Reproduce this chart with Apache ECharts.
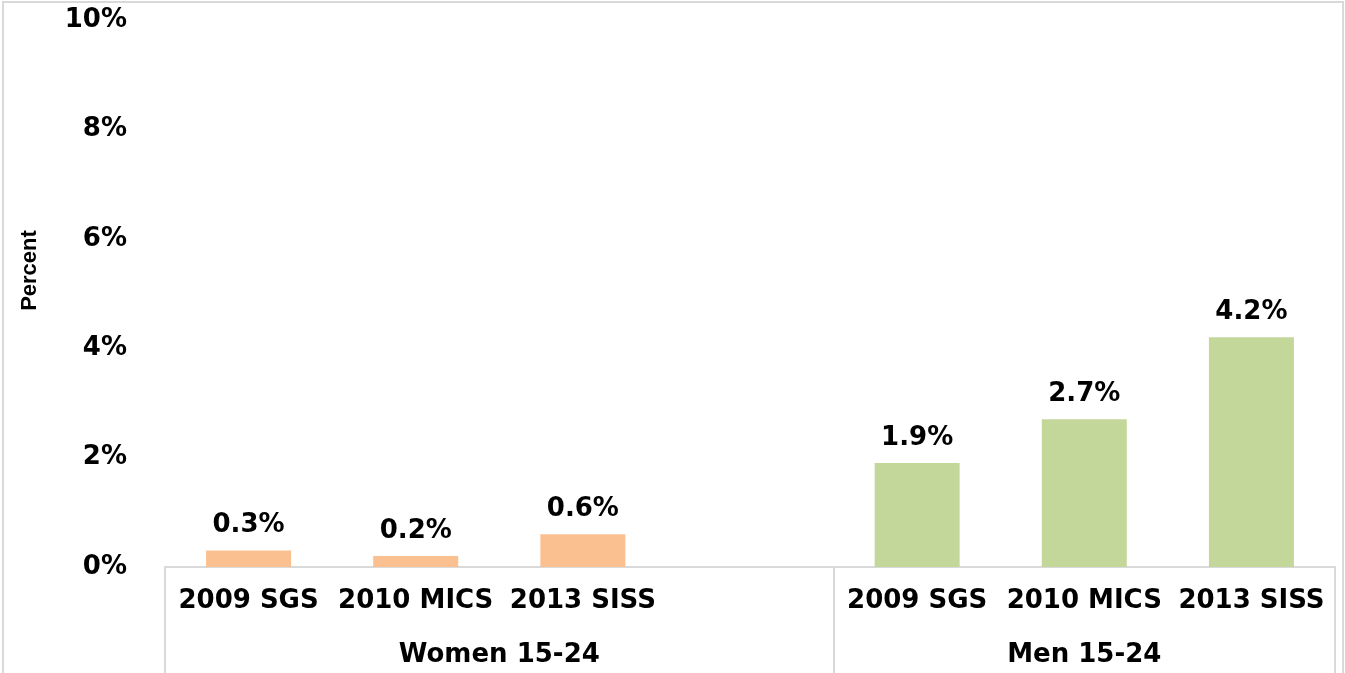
<!DOCTYPE html>
<html>
<head>
<meta charset="utf-8">
<script src="https://cdn.jsdelivr.net/npm/echarts@6/dist/echarts.min.js"></script>
<style>
  html, body { margin: 0; padding: 0; background: #fff; }
  #chart { width: 1345px; height: 673px; }
</style>
</head>
<body>
<div id="chart"></div>
<script>
// categories (empty slot separates the two groups)
const categories = ['2009 SGS', '2010 MICS', '2013 SISS', '', '2009 SGS', '2010 MICS', '2013 SISS'];
const groupLabels = ['Women 15-24', 'Men 15-24'];
const groupCenters = [2, 5.5];     // positions on the 0..7 slot scale
const groupBounds = [0, 4, 7];
const womenValues = [0.3, 0.2, 0.6, '-', '-', '-', '-'];
const menValues = ['-', '-', '-', '-', 1.9, 2.7, 4.2];
const yTicks = { min: 0, max: 10, interval: 2 };

const boldFont = 'DejaVu Sans';
const gridLine = '#d9d9d9';

function labelStyle() {
  return {
    show: true,
    position: 'top',
    distance: 12,
    formatter: p => p.value + '%',
    color: '#000',
    fontFamily: boldFont,
    fontWeight: 'bold',
    fontSize: 26
  };
}

function renderChart() {
  const el = document.getElementById('chart');
  const chart = echarts.init(el);
  chart.setOption({
    animation: false,
    grid: { left: 165, right: 10, top: 20, bottom: 106 },
    graphic: [{
      type: 'rect',
      shape: { x: 3, y: 2, width: 1340, height: 700 },
      style: { fill: 'none', stroke: gridLine, lineWidth: 2 },
      silent: true
    }],
    xAxis: [
      {
        type: 'category',
        data: categories,
        position: 'bottom',
        axisLine: { lineStyle: { color: gridLine, width: 2 } },
        axisTick: { show: false },
        axisLabel: {
          interval: 0,
          margin: 21,
          color: '#000',
          fontFamily: boldFont,
          fontWeight: 'bold',
          fontSize: 26
        }
      },
      {
        type: 'value',
        min: 0,
        max: 7,
        position: 'bottom',
        axisLine: { show: false },
        splitLine: { show: false },
        axisTick: {
          show: true,
          customValues: groupBounds,
          length: 110,
          lineStyle: { color: gridLine, width: 2 }
        },
        axisLabel: {
          customValues: groupCenters,
          formatter: v => groupLabels[groupCenters.indexOf(v)],
          margin: 75,
          color: '#000',
          fontFamily: boldFont,
          fontWeight: 'bold',
          fontSize: 26
        }
      }
    ],
    yAxis: {
      type: 'value',
      min: yTicks.min,
      max: yTicks.max,
      interval: yTicks.interval,
      name: 'Percent',
      nameLocation: 'middle',
      nameRotate: 90,
      nameGap: 124,
      nameTextStyle: {
        color: '#000',
        fontFamily: 'Liberation Sans',
        fontWeight: 'bold',
        fontSize: 22,
        padding: [0, 0, 0, 46]
      },
      axisLine: { show: false },
      axisTick: { show: false },
      splitLine: { show: false },
      axisLabel: {
        formatter: '{value}%',
        margin: 38,
        color: '#000',
        fontFamily: boldFont,
        fontWeight: 'bold',
        fontSize: 26
      }
    },
    series: [
      {
        name: 'Women',
        type: 'bar',
        xAxisIndex: 0,
        data: womenValues,
        barWidth: 85,
        barGap: '-100%',
        itemStyle: { color: '#FAC090' },
        label: labelStyle()
      },
      {
        name: 'Men',
        type: 'bar',
        xAxisIndex: 0,
        data: menValues,
        barWidth: 85,
        barGap: '-100%',
        itemStyle: { color: '#C4D79B' },
        label: labelStyle()
      }
    ]
  });
}

window.addEventListener('DOMContentLoaded', renderChart);
</script>
</body>
</html>
